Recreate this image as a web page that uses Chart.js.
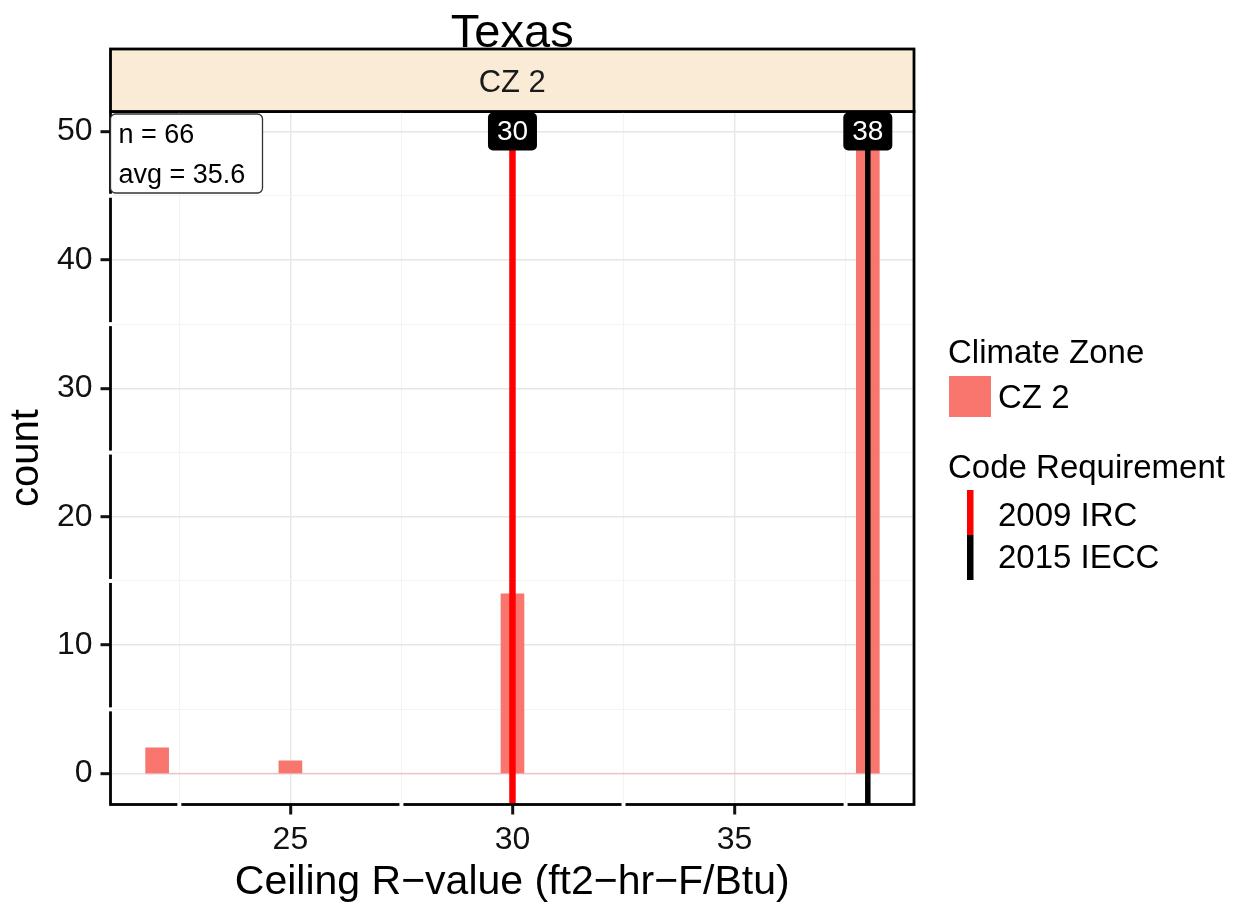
<!DOCTYPE html>
<html>
<head>
<meta charset="utf-8">
<script src="https://cdn.jsdelivr.net/npm/chart.js@4.4.1/dist/chart.umd.min.js"></script>
<style>
  html, body { margin: 0; padding: 0; background: #fff; }
  #wrap { width: 1242px; height: 903px; }
</style>
</head>
<body>
<div id="wrap"><canvas id="chart" width="1242" height="903"></canvas></div>
<script>
// data
const rValues = [22, 25, 30, 38];
const rCounts = [2, 1, 14, 49];
const zeroBinSpan = [21.73, 38.27];
const codeValues = [30, 38];
const codeNames = ['2009 IRC', '2015 IECC'];
const codeColors = ['#FF0000', '#000000'];
const codeLabelY = 50;
const statLines = ['n = 66', 'avg = 35.6'];
const xRange = [20.95, 39.04];
const yRange = [-2.41, 51.56];

const FONT = '"Liberation Sans", Arial, sans-serif';
const BAR = '#F8766D';

const isMajor = (v, m) => Math.abs(v / m - Math.round(v / m)) < 1e-6;

function roundRect(ctx, x, y, w, h, r) {
    ctx.beginPath();
    ctx.moveTo(x + r, y);
    ctx.arcTo(x + w, y, x + w, y + h, r);
    ctx.arcTo(x + w, y + h, x, y + h, r);
    ctx.arcTo(x, y + h, x, y, r);
    ctx.arcTo(x, y, x + w, y, r);
    ctx.closePath();
}

const decor = {
    id: 'decor',
    beforeDraw(chart) {
        const ctx = chart.ctx;
        ctx.save();
        ctx.fillStyle = '#fff';
        ctx.fillRect(0, 0, chart.width, chart.height);
        ctx.restore();
    },
    afterDatasetsDraw(chart) {
        const { ctx, chartArea: a, scales: { x, y } } = chart;
        ctx.save();
        // panel border
        ctx.strokeStyle = '#000';
        ctx.lineWidth = 2.8;
        ctx.strokeRect(a.left, a.top, a.right - a.left, a.bottom - a.top);
        // white minor grid breaks across the border
        ctx.fillStyle = '#fff';
        x.ticks.forEach(t => {
            if (isMajor(t.value, 5)) return;
            const px = x.getPixelForValue(t.value);
            ctx.fillRect(px - 2, a.bottom - 2, 4, 4);
            ctx.fillRect(px - 1, a.top - 2, 2, 4);
        });
        y.ticks.forEach(t => {
            if (isMajor(t.value, 10)) return;
            const py = y.getPixelForValue(t.value);
            ctx.fillRect(a.left - 2, py - 2, 4, 4);
        });
        // code requirement labels
        ctx.font = '28px ' + FONT;
        ctx.textAlign = 'center';
        ctx.textBaseline = 'middle';
        codeValues.forEach(v => {
            const px = x.getPixelForValue(v);
            const py = y.getPixelForValue(codeLabelY);
            roundRect(ctx, px - 24.5, py - 19, 49, 38, 5);
            ctx.fillStyle = '#000';
            ctx.fill();
            ctx.fillStyle = '#fff';
            ctx.fillText(String(v), px, py + 1);
        });
        // n / avg box
        roundRect(ctx, a.left, a.top + 2.5, 152, 79, 5);
        ctx.fillStyle = '#fff';
        ctx.fill();
        ctx.strokeStyle = '#333';
        ctx.lineWidth = 1.3;
        ctx.stroke();
        ctx.fillStyle = '#000';
        ctx.font = '27px ' + FONT;
        ctx.textAlign = 'left';
        ctx.textBaseline = 'alphabetic';
        statLines.forEach((s, i) => ctx.fillText(s, a.left + 8, a.top + 31 + i * 40));
        ctx.restore();
    },
    afterDraw(chart) {
        const { ctx, chartArea: a } = chart;
        ctx.save();
        // facet strip
        const stripTop = 49;
        ctx.fillStyle = '#FAEBD7';
        ctx.fillRect(a.left, stripTop, a.right - a.left, a.top - stripTop);
        ctx.strokeStyle = '#000';
        ctx.lineWidth = 2.8;
        ctx.strokeRect(a.left, stripTop, a.right - a.left, a.top - stripTop);
        ctx.fillStyle = '#1a1a1a';
        ctx.font = '31px ' + FONT;
        ctx.textAlign = 'center';
        ctx.textBaseline = 'alphabetic';
        ctx.fillText('CZ 2', (a.left + a.right) / 2, 92);
        // title
        ctx.fillStyle = '#000';
        ctx.font = '47px ' + FONT;
        ctx.fillText('Texas', (a.left + a.right) / 2, 47);
        // legend
        ctx.textAlign = 'left';
        ctx.font = '33px ' + FONT;
        ctx.fillText('Climate Zone', 948, 363);
        ctx.fillStyle = BAR;
        ctx.fillRect(949, 376, 42, 41);
        ctx.fillStyle = '#000';
        ctx.fillText('CZ 2', 998, 408);
        ctx.fillText('Code Requirement', 948, 478);
        codeNames.forEach((n, i) => {
            ctx.fillStyle = codeColors[i];
            ctx.fillRect(967, 490 + i * 45, 6.5, 45);
            ctx.fillStyle = '#000';
            ctx.fillText(n, 998, 526 + i * 42);
        });
        ctx.restore();
    }
};

const datasets = [
    ...codeValues.map((v, i) => ({
        type: 'line',
        label: codeNames[i],
        data: [{ x: v, y: yRange[0] }, { x: v, y: codeLabelY }],
        borderColor: codeColors[i],
        borderWidth: i === 0 ? 6.5 : 5.5,
        pointRadius: 0,
        order: i
    })),
    {
        type: 'line',
        label: 'empty bins',
        data: zeroBinSpan.map(v => ({ x: v, y: 0 })),
        borderColor: 'rgba(248,118,109,0.3)',
        borderWidth: 1.5,
        pointRadius: 0,
        order: 3
    },
    {
        type: 'bar',
        label: 'CZ 2',
        data: rValues.map((v, i) => ({ x: v, y: rCounts[i] })),
        backgroundColor: BAR,
        barThickness: 23,
        order: 4
    }
];

new Chart(document.getElementById('chart'), {
    type: 'bar',
    data: { datasets },
    options: {
        responsive: false,
        animation: false,
        events: [],
        layout: { padding: { top: 111.5, right: 328, left: 0, bottom: 0 } },
        plugins: { legend: { display: false }, tooltip: { enabled: false } },
        scales: {
            x: {
                type: 'linear',
                min: xRange[0],
                max: xRange[1],
                offset: false,
                border: { display: false },
                grid: {
                    offset: false,
                    color: c => isMajor(c.tick.value, 5) ? '#e6e6e6' : '#f3f3f3',
                    lineWidth: c => isMajor(c.tick.value, 5) ? 1.4 : 1,
                    tickColor: c => isMajor(c.tick.value, 5) ? '#111' : 'rgba(0,0,0,0)',
                    tickLength: 10,
                    tickWidth: 3
                },
                ticks: {
                    stepSize: 2.5,
                    includeBounds: false,
                    autoSkip: false,
                    maxRotation: 0,
                    padding: 6,
                    color: '#111',
                    font: { family: FONT, size: 32 },
                    callback: v => isMajor(v, 5) ? String(v) : ''
                },
                title: {
                    display: true,
                    text: 'Ceiling R\u2212value (ft2\u2212hr\u2212F/Btu)',
                    color: '#000',
                    font: { family: FONT, size: 41, lineHeight: 1 },
                    padding: 0
                },
                afterFit: s => { s.height = 98.5; }
            },
            y: {
                min: yRange[0],
                max: yRange[1],
                border: { display: false },
                grid: {
                    color: c => isMajor(c.tick.value, 10) ? '#e6e6e6' : '#f3f3f3',
                    lineWidth: c => isMajor(c.tick.value, 10) ? 1.4 : 1,
                    tickColor: c => isMajor(c.tick.value, 10) ? '#111' : 'rgba(0,0,0,0)',
                    tickLength: 10,
                    tickWidth: 3
                },
                ticks: {
                    stepSize: 5,
                    includeBounds: false,
                    autoSkip: false,
                    padding: 8,
                    color: '#111',
                    font: { family: FONT, size: 32 },
                    callback: v => isMajor(v, 10) ? String(v) : ''
                },
                title: {
                    display: true,
                    text: 'count',
                    color: '#000',
                    font: { family: FONT, size: 40, lineHeight: 1 },
                    padding: 7
                },
                afterFit: s => { s.height = s.height; s.width = 110.5; }
            }
        }
    },
    plugins: [decor]
});
</script>
</body>
</html>
